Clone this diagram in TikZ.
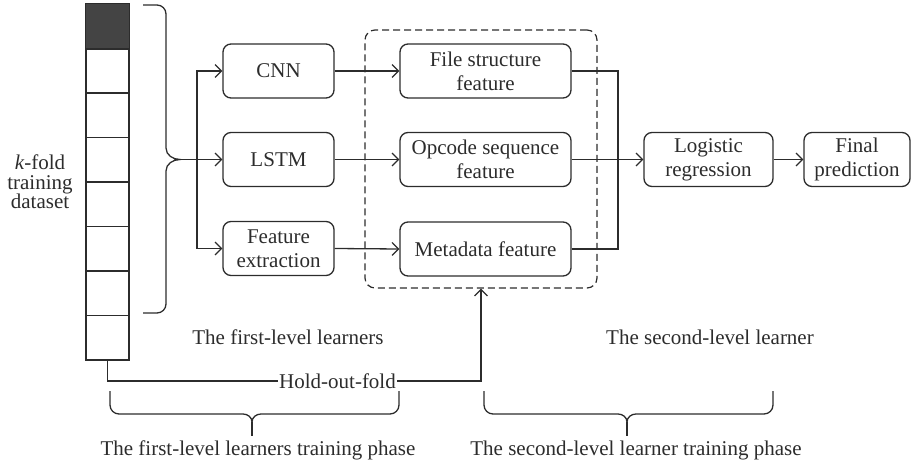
\documentclass[tikz,border=0pt]{standalone}
\usepackage{fontspec}
\setmainfont{Liberation Serif}
\usetikzlibrary{arrows.meta}
\definecolor{ink}{HTML}{2C2C2C}
\definecolor{cellfill}{HTML}{444444}
\tikzset{
  every node/.style={text=ink, font=\fontsize{21}{24}\selectfont},
  line/.style={draw=ink, line width=1.3pt},
  arr/.style={line, -{Straight Barb[length=6.5pt,width=13pt,line width=1.2pt]}},
  box/.style={line, rounded corners=8pt, minimum height=54pt, inner sep=0pt, align=center},
  cell/.style={line, minimum width=43pt, minimum height=44.5pt, inner sep=0pt},
  group/.style={draw=ink, line width=1.2pt, dash pattern=on 7pt off 4pt, rounded corners=10pt},
}
\begin{document}
\begin{tikzpicture}[x=1pt, y=-1pt]
\useasboundingbox (0,0) rectangle (911,468);

% k-fold training data stack
\foreach \i in {1,...,8} {
  \node[cell] (cell\i) at (107.5, {4+44.5*(\i-0.5)}) {};
}
\fill[cellfill] (cell1.north west) rectangle (cell1.south east);
\draw[line] (cell1.north west) rectangle (cell1.south east);
\node[align=center, font=\fontsize{21}{19.5}\selectfont] (data) at (40,182) {\textit{k}-fold\\training\\dataset};

% brace collecting the k-1 training folds
\coordinate (tip) at (180,159.5);
\draw[line] (143,5) -- (157,5) to[out=0,in=90] (166,14) -- (166,148)
  to[out=-90,in=180] (tip) to[out=180,in=90] (166,171) -- (166,304)
  to[out=-90,in=0] (157,313) -- (143,313);

% first-level learners
\node[box, minimum width=111pt] (cnn)  at (278.5,71)    {CNN};
\node[box, minimum width=111pt] (lstm) at (278.5,159.5) {LSTM};
\node[box, minimum width=111pt] (fext) at (278.5,248.5) {Feature\\extraction};

% features
\node[box, minimum width=171pt] (fsf) at (485.5,71)    {File structure\\feature};
\node[box, minimum width=171pt] (osf) at (485.5,159.5) {Opcode sequence\\feature};
\node[box, minimum width=171pt] (mdf) at (485.5,249)   {Metadata feature};
\node[group, minimum width=232pt, minimum height=258pt] (feat) at (481,159) {};

% second-level learner
\node[box, minimum width=129pt] (lr) at (708.5,159.5) {Logistic\\regression};
\node[box, minimum width=106pt] (fp) at (857,159.5)  {Final\\prediction};

% connectors
\coordinate (split) at (197,159.5);
\draw[line] (tip) -- (split);
\draw[arr] (split) -- (lstm.west);
\draw[arr] (split) |- (cnn.west);
\draw[arr] (split) |- (fext.west);
\draw[arr] (cnn.east) -- (fsf.west);
\draw[arr] (lstm.east) -- (osf.west);
\draw[arr] (fext.east) -- (mdf.west);
\coordinate (merge) at (618,159.5);
\draw[line] (fsf.east) -| (merge);
\draw[line] (mdf.east) -| (merge);
\draw[arr] (osf.east) -- (lr.west);
\draw[arr] (lr.east) -- (fp.west);

% hold-out fold route
\node[inner sep=1pt] (hof) at (337.5,381) {Hold-out-fold};
\draw[line] (cell8.south) |- (hof.west);
\draw[arr] (hof.east) -| (feat.south);

% captions
\node (l1) at (288,337) {The first-level learners};
\node (l2) at (710,337) {The second-level learner};

% phase braces
\draw[line] (110,391) -- (110,405) to[out=-90,in=180] (119,414) -- (243,414)
  to[out=0,in=90] (252,422) to[out=90,in=180] (261,414) -- (390,414)
  to[out=0,in=-90] (399,405) -- (399,391);
\draw[line] (252,422) -- (252,436);
\draw[line] (484,391) -- (484,405) to[out=-90,in=180] (493,414) -- (618,414)
  to[out=0,in=90] (627,422) to[out=90,in=180] (636,414) -- (764,414)
  to[out=0,in=-90] (773,405) -- (773,391);
\draw[line] (627,422) -- (627,436);
\node (p1) at (258,450) {The first-level learners training phase};
\node (p2) at (636,450) {The second-level learner training phase};
\end{tikzpicture}
\end{document}
